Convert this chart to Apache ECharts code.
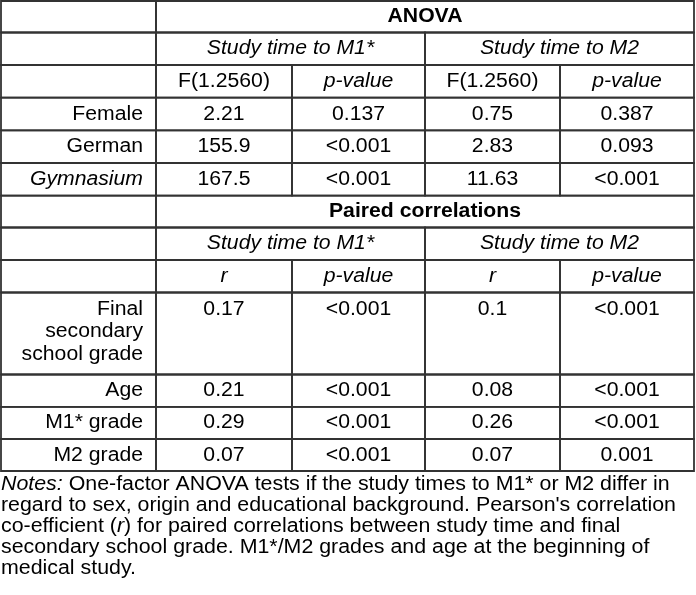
<!DOCTYPE html>
<html>
<head>
<meta charset="utf-8">
<script src="https://cdn.jsdelivr.net/npm/echarts@6/dist/echarts.min.js"></script>
<style>html,body{margin:0;padding:0;background:#fff;}#c{width:696px;height:595px;}</style>
</head>
<body>
<div id="c"></div>
<script>
// ---- data ----
const sectionTitles = ['ANOVA', 'Paired correlations'];
const groupTitles = ['Study time to M1*', 'Study time to M2'];
const anovaStats = ['F(1.2560)', 'p-value', 'F(1.2560)', 'p-value'];
const corrStats = ['r', 'p-value', 'r', 'p-value'];
const anovaRows = ['Female', 'German', 'Gymnasium'];
const anovaValues = [
  ['2.21', '0.137', '0.75', '0.387'],
  ['155.9', '<0.001', '2.83', '0.093'],
  ['167.5', '<0.001', '11.63', '<0.001']
];
const corrRows = ['Final\nsecondary\nschool grade', 'Age', 'M1* grade', 'M2 grade'];
const corrValues = [
  ['0.17', '<0.001', '0.1', '<0.001'],
  ['0.21', '<0.001', '0.08', '<0.001'],
  ['0.29', '<0.001', '0.26', '<0.001'],
  ['0.07', '<0.001', '0.07', '0.001']
];
const notesLines = [
  'Notes: One-factor ANOVA tests if the study times to M1* or M2 differ in',
  "regard to sex, origin and educational background. Pearson's correlation",
  'co-efficient (r) for paired correlations between study time and final',
  'secondary school grade. M1*/M2 grades and age at the beginning of',
  'medical study.'
];

// ---- layout (positions & styles) ----
const colEdges = [1, 156, 292, 425, 560, 694];
const rowEdges = [1, 32.5, 65, 97.7, 130.3, 163, 195.7, 227.5, 260, 292.5, 374.5, 406.9, 439, 471];
const italicSet = new Set(['p-value', 'r', 'Gymnasium', 'Study time to M1*', 'Study time to M2']);
const FONT = '"Liberation Sans", Arial, sans-serif';
const FS = 20, SX = 1.06, SX_NOTES = 1.068, TEXT_DY = 0;
const labelRight = 143;
const notesCenters = [484.8, 505.8, 526.6, 547.3, 568.3];

const cells = [];
function add(c0, c1, r, text, opt) {
  cells.push(Object.assign({ c0, c1, r, text }, opt || {}));
}
function section(base, title, stats, rows, vals) {
  add(0, 1, base, '');
  add(1, 5, base, title, { bold: true });
  add(0, 1, base + 1, '');
  add(1, 3, base + 1, groupTitles[0]);
  add(3, 5, base + 1, groupTitles[1]);
  add(0, 1, base + 2, '');
  stats.forEach((s, i) => add(i + 1, i + 2, base + 2, s));
  rows.forEach((lab, j) => {
    const multi = lab.indexOf('\n') >= 0;
    add(0, 1, base + 3 + j, lab, { label: true, top: multi });
    vals[j].forEach((v, i) => add(i + 1, i + 2, base + 3 + j, v, { top: multi }));
  });
}
section(0, sectionTitles[0], anovaStats, anovaRows, anovaValues);
section(6, sectionTitles[1], corrStats, corrRows, corrValues);

const data = cells.map((c, i) => [colEdges[c.c0], colEdges[c.c1], rowEdges[c.r], rowEdges[c.r + 1], i]);

function renderItem(params, api) {
  const c = cells[api.value(4)];
  const p0 = api.coord([api.value(0), api.value(2)]);
  const p1 = api.coord([api.value(1), api.value(3)]);
  const children = [{
    type: 'rect',
    shape: { x: p0[0], y: p0[1], width: p1[0] - p0[0], height: p1[1] - p0[1] },
    style: { fill: 'none', stroke: '#333', lineWidth: 1.8 }
  }];
  if (c.text) {
    let tx, align;
    if (c.label) { tx = api.coord([labelRight, 0])[0]; align = 'right'; }
    else { tx = (p0[0] + p1[0]) / 2; align = 'center'; }
    let ty, va;
    if (c.top) { ty = p0[1] + 5.9; va = 'top'; }
    else { ty = (p0[1] + p1[1]) / 2 + TEXT_DY; va = 'middle'; }
    children.push({
      type: 'text', x: tx, y: ty, scaleX: SX,
      style: {
        text: c.text, x: 0, y: 0, fill: '#000',
        fontSize: FS, fontFamily: FONT,
        fontStyle: italicSet.has(c.text) ? 'italic' : 'normal',
        fontWeight: c.bold ? 'bold' : 'normal',
        align: align, verticalAlign: va, lineHeight: 22.3
      }
    });
  }
  return { type: 'group', children };
}

const graphics = notesLines.map((ln, i) => ({
  type: 'text', x: 1, y: notesCenters[i], scaleX: SX_NOTES,
  style: {
    text: ln.replace('Notes:', '{i|Notes:}').replace('(r)', '({i|r})'),
    x: 0, y: 0, fill: '#000', fontSize: FS, fontFamily: FONT,
    align: 'left', verticalAlign: 'middle',
    rich: { i: { fontStyle: 'italic', fontSize: FS, fontFamily: FONT, fill: '#000' } }
  }
}));

const chart = echarts.init(document.getElementById('c'), null, { renderer: 'canvas' });
chart.setOption({
  animation: false,
  backgroundColor: '#fff',
  grid: { left: 0, right: 0, top: 0, bottom: 0 },
  xAxis: { type: 'value', min: 0, max: 696, show: false },
  yAxis: { type: 'value', min: 0, max: 595, inverse: true, show: false },
  graphic: graphics,
  series: [{
    type: 'custom', renderItem, data, clip: false,
    encode: { x: [0, 1], y: [2, 3] }
  }]
});
</script>
</body>
</html>
